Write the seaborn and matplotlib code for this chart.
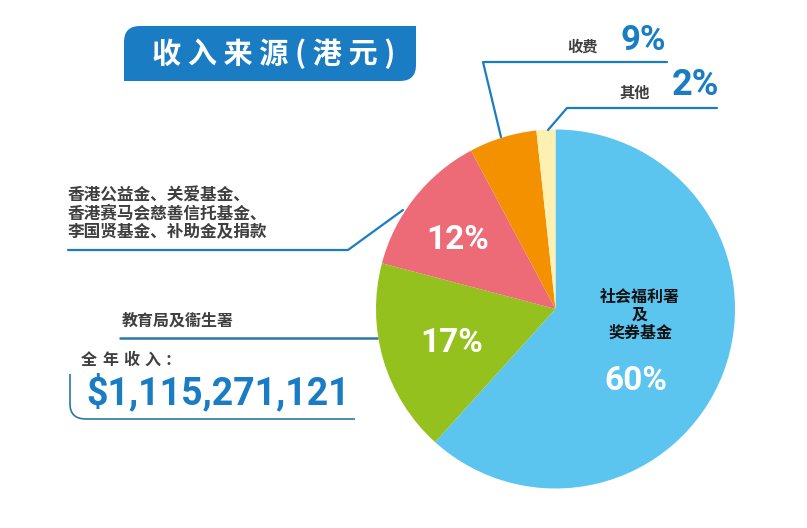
import numpy as np
import matplotlib
matplotlib.use("Agg")
import matplotlib.pyplot as plt
from matplotlib.path import Path
from matplotlib.patches import PathPatch
import seaborn as sns

# income sources, clockwise from 12 o'clock
sources = ['社会福利署及奖券基金', '教育局及衞生署',
           '香港公益金、关爱基金、香港赛马会慈善信托基金、李国贤基金、补助金及捐款',
           '收费', '其他']
pct_labels = [60, 17, 12, 9, 2]            # printed percentages
slice_share = [61.7, 17.4, 13.1, 6.1, 1.7]  # slice sizes as drawn in the picture
slice_colors = ['#5bc5f0', '#95c11f', '#ec6b77', '#f39100', '#fcf1b1']
total_income = '$1,115,271,121'
title = '收 入 来 源 ( 港 元 )'

BLUE = '#1a7dc4'
GREY = '#3f3f3f'


def path_patch(verts, codes, **kw):
    return PathPatch(Path(verts, codes), **kw)


def main():
    sns.set_theme(style='white')
    plt.rcParams['font.family'] = ['Noto Sans CJK SC', 'DejaVu Sans']

    W, H = 807, 528
    fig = plt.figure(figsize=(W / 100, H / 100), dpi=100)

    # pie: centre (555.5, 309) px, radius 179.5 px
    cx, cy, r = 555.5, 309, 179.5
    pax = fig.add_axes([(cx - r) / W, (H - cy - r) / H, 2 * r / W, 2 * r / H])
    pax.pie(slice_share, colors=slice_colors, startangle=90, counterclock=False,
            radius=1, wedgeprops=dict(linewidth=0))
    pax.set_xlim(-1, 1)
    pax.set_ylim(-1, 1)
    pax.set_aspect('equal')
    pax.axis('off')

    # overlay in pixel coordinates for the annotations
    ov = fig.add_axes([0, 0, 1, 1], zorder=5)
    ov.set_xlim(0, W)
    ov.set_ylim(H, 0)
    ov.axis('off')
    ov.patch.set_alpha(0)

    # title box (rounded top-left and bottom-right)
    x0, x1, y0, y1, rr = 124, 416, 26, 81, 16
    verts = [(x0, y1), (x0, y0 + rr), (x0, y0), (x0 + rr, y0), (x1, y0),
             (x1, y1 - rr), (x1, y1), (x1 - rr, y1), (x0, y1), (x0, y1)]
    codes = [Path.MOVETO, Path.LINETO, Path.CURVE3, Path.CURVE3, Path.LINETO,
             Path.LINETO, Path.CURVE3, Path.CURVE3, Path.LINETO, Path.CLOSEPOLY]
    ov.add_patch(path_patch(verts, codes, facecolor=BLUE, edgecolor='none'))
    ov.text(274, 54, title, color='white', fontsize=21, fontweight='bold',
            ha='center', va='center')

    # percentages inside the pie
    num = dict(family=['Roboto', 'DejaVu Sans'], fontweight='bold', color='white',
               fontsize=24, ha='center', va='center')
    ov.text(458, 240, f'{pct_labels[2]}%', **num)
    ov.text(452, 343, f'{pct_labels[1]}%', **num)
    ov.text(636, 381, f'{pct_labels[0]}%', **num)
    for yy, line in zip([297, 315, 333], ['社会福利署', '及', '奖券基金']):
        ov.text(640, yy, line, color='#111111', fontsize=11.5, fontweight='bold',
                ha='center', va='center')

    # pink slice label
    pink_lines = ['香港公益金、关爱基金、', '香港赛马会慈善信托基金、', '李国贤基金、补助金及捐款']
    for yy, line in zip([196, 213.5, 231], pink_lines):
        ov.text(68, yy, line, color=GREY, fontsize=12, fontweight='bold',
                ha='left', va='center')
    ov.plot([68, 348, 403], [250, 250, 210], color=BLUE, lw=1.6)

    # green slice label
    ov.text(122, 321, sources[1], color=GREY, fontsize=11.5, fontweight='bold',
            ha='left', va='center')
    ov.plot([120, 377], [338, 338], color='#2a78a8', lw=1.8)

    # orange slice label
    ov.text(582, 47, sources[3], color=GREY, fontsize=11, fontweight='bold',
            ha='center', va='center')
    ov.text(621, 40, f'{pct_labels[3]}%', family=['Roboto', 'DejaVu Sans'],
            fontweight='bold', color=BLUE, fontsize=25, ha='left', va='center')
    ov.plot([667, 483, 501], [62, 62, 137], color=BLUE, lw=1.6)

    # yellow slice label
    ov.text(635, 93, sources[4], color=GREY, fontsize=11, fontweight='bold',
            ha='center', va='center')
    ov.text(672, 85, f'{pct_labels[4]}%', family=['Roboto', 'DejaVu Sans'],
            fontweight='bold', color=BLUE, fontsize=26, ha='left', va='center')
    ov.plot([717, 567, 548], [108, 108, 130], color=BLUE, lw=1.6)

    # total income (letter-spaced heading)
    for i, ch in enumerate('全年收入：'):
        ov.text(89 + 21 * i, 360, ch, color=GREY, fontsize=11.5, fontweight='bold',
                ha='center', va='center')
    ov.text(86, 393, total_income, family=['Roboto', 'DejaVu Sans'],
            fontweight='bold', color=BLUE, fontsize=27, ha='left', va='center')
    bverts = [(70, 374), (70, 404), (70, 419), (86, 419), (355, 419)]
    bcodes = [Path.MOVETO, Path.LINETO, Path.CURVE3, Path.CURVE3, Path.LINETO]
    ov.add_patch(path_patch(bverts, bcodes, facecolor='none', edgecolor='#2a78a8', lw=1.2))

    fig.savefig('out.png', dpi=100, facecolor='white')


if __name__ == '__main__':
    main()
